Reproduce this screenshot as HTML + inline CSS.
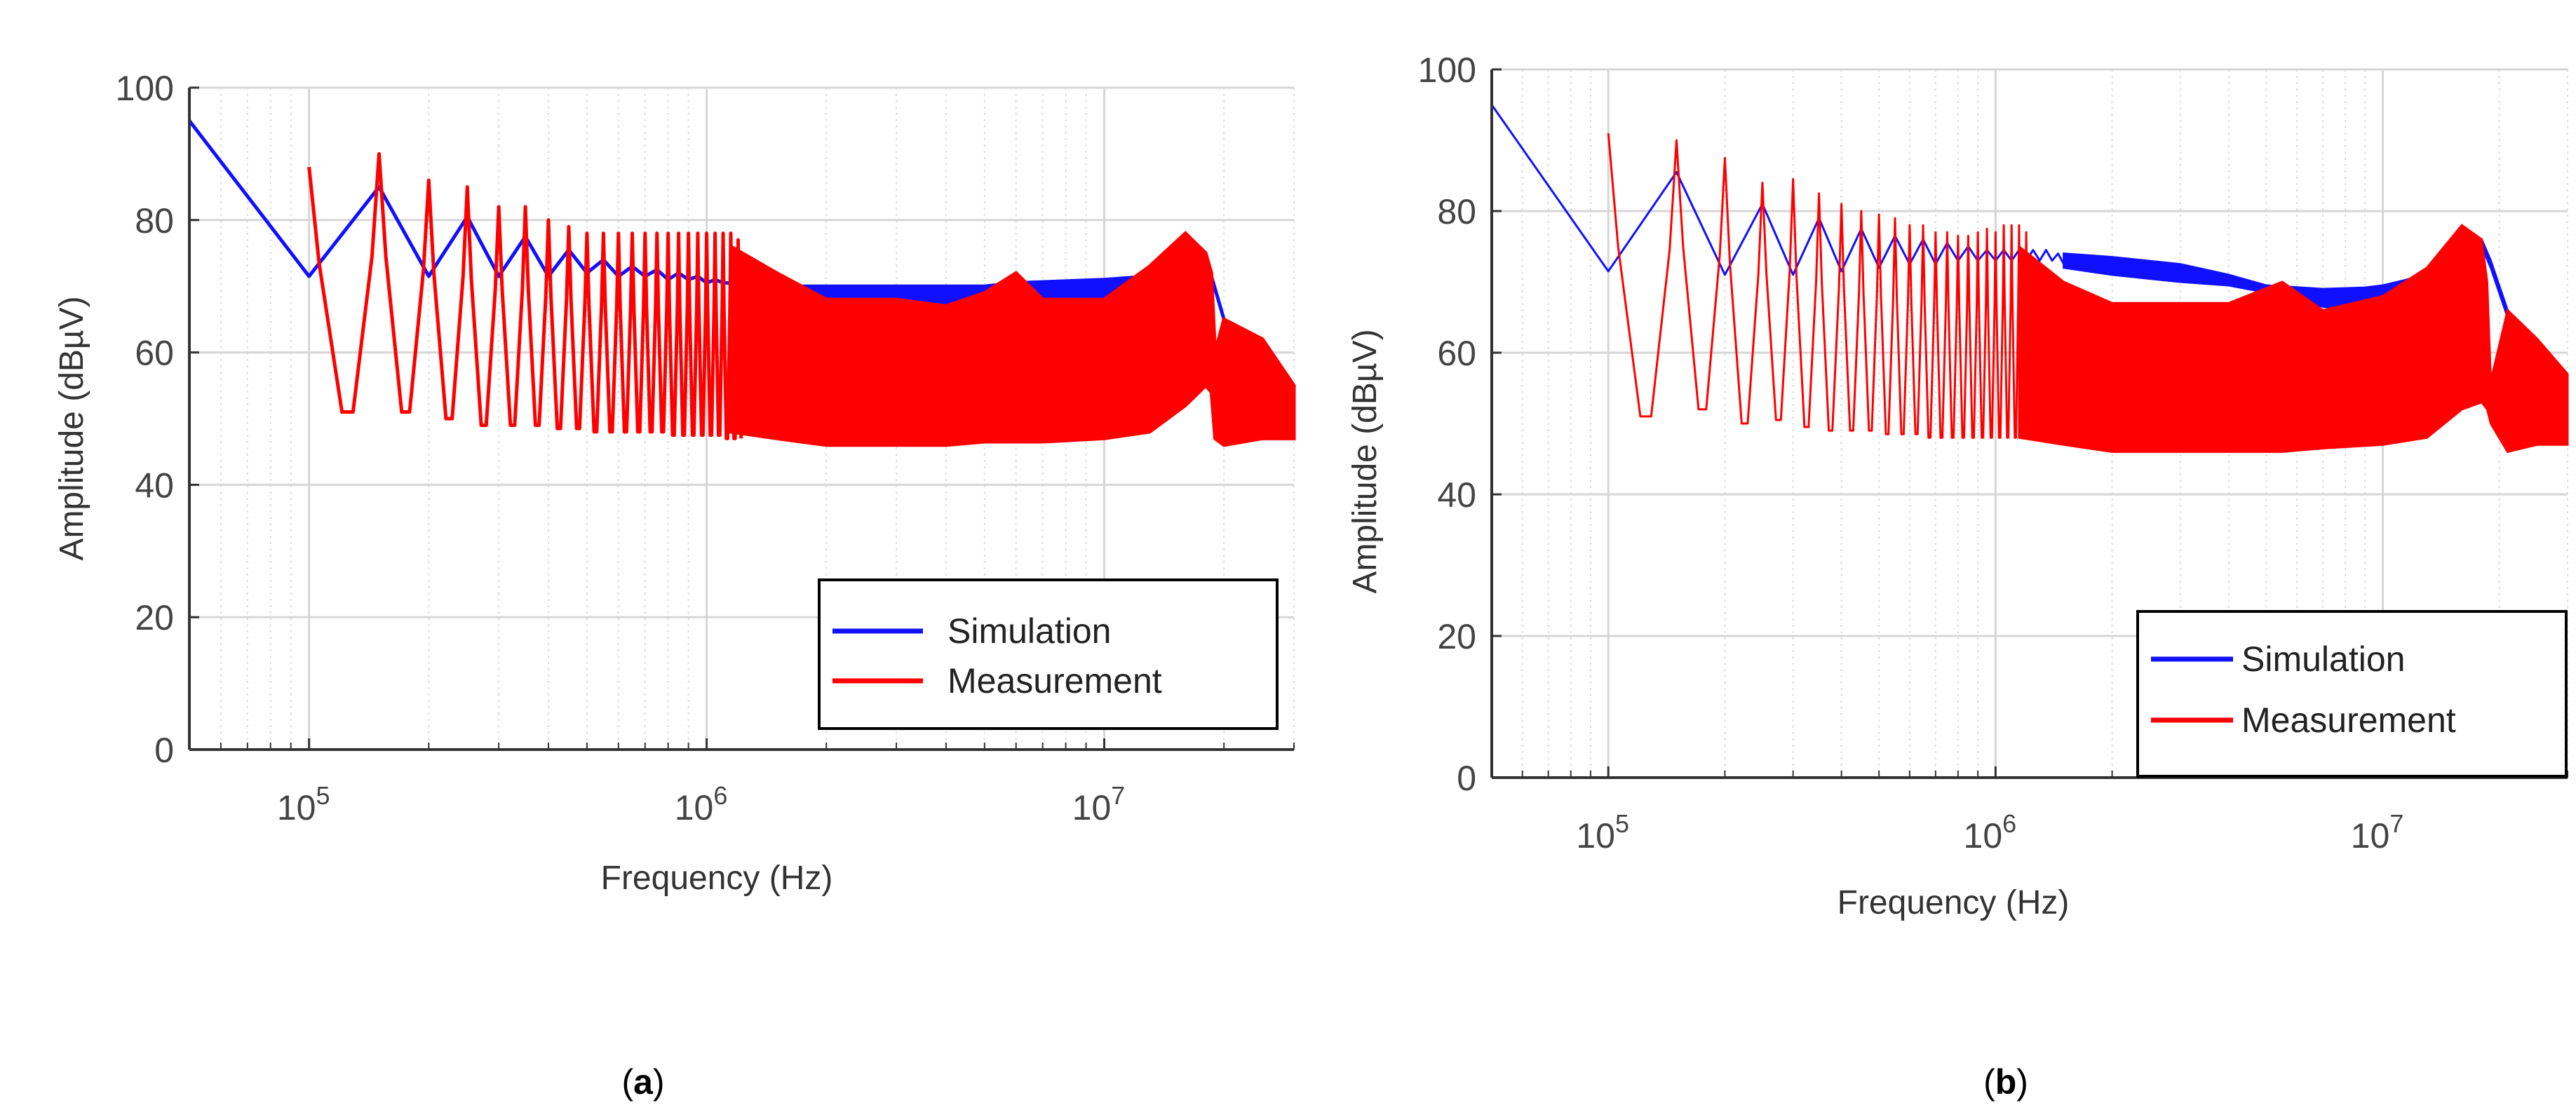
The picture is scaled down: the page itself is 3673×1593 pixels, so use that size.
<!DOCTYPE html>
<html><head><meta charset="utf-8"><style>
html,body{margin:0;padding:0;background:#fff}
svg{display:block}
text{font-family:"Liberation Sans",sans-serif}
</style></head><body>
<svg id="fig" width="3673" height="1593" viewBox="0 0 3673 1593" xmlns="http://www.w3.org/2000/svg">
<g id="ga"></g>
<g id="gb"></g>
<text x="917" y="1560" font-family="Liberation Serif" font-size="50" text-anchor="middle">(<tspan font-weight="bold">a</tspan>)</text>
<text x="2860" y="1560" font-family="Liberation Serif" font-size="50" text-anchor="middle">(<tspan font-weight="bold">b</tspan>)</text>
</svg>
<script>
const yTicks=[0,20,40,60,80,100];
const xDecades=[5,6,7];
// Chart A data
const aSimFreq=[50e3,100e3,150e3,200e3,250e3,300e3,350e3,400e3,450e3,500e3,550e3,600e3,650e3,700e3,750e3,800e3,850e3,900e3,950e3,1e6,1.05e6,1.1e6,1.15e6,1.2e6,1.25e6,1.3e6,1.35e6,1.4e6,1.45e6,1.5e6];
const aSimVal=[95,71.5,85,71.5,80.5,71.5,77.5,71.5,75.5,72,74,71.5,73,71.5,72.5,71,72,71,71.5,70.5,71,70.5,70.5,70,70.5,70,70.5,70,70,70];
const aSimBandFreq=[1.5e6,1.7e6,3e6,5e6,6e6,10e6,13e6,18e6,18.5e6];
const aSimBandUpper=[70,70,70,70,70.5,71,71.5,72,72];
const aSimBandLower=[69.5,65,65.5,66,64,67,69,71,71];
const aSimTailFreq=[18.5e6,20e6];
const aSimTailVal=[72,65];
const aMeasPeaks=[88,90,86,85,82,82,80,79,78,78,78,78,78,78,78,78,78,78,78,78,78,78,77];
const aMeasValleys=[51,51,50,49,49,49,48.5,48.5,48,48,48,48,48,48,47.5,47.5,47.5,47.5,47.5,47.5,47,47,47];
const aBandFreq=[1.15e6,1.5e6,2e6,3e6,4e6,5e6,6e6,7e6,10e6,13e6,16e6,18e6,18.6e6,19e6,20e6,25e6,30e6];
const aBandUpper=[76,72,68,68,67,69,72,68,68,73,78,75,72,60,65,62,55];
const aBandLower=[48,47,46,46,46,46.5,46.5,46.5,47,48,52,55,54,47,46,47,47];
// Chart B data
const bSimFreq=[50e3,100e3,150e3,200e3,250e3,300e3,350e3,400e3,450e3,500e3,550e3,600e3,650e3,700e3,750e3,800e3,850e3,900e3,950e3,1e6,1.05e6,1.1e6,1.15e6,1.2e6,1.25e6,1.3e6,1.35e6,1.4e6,1.45e6,1.5e6];
const bSimVal=[95,71.5,85.5,71,81,71,79,71.5,77.5,72,76.5,72.5,76,72.5,75.5,73,75,73,74.5,73,74.5,73,74.5,73,74.5,73,74.5,73,74,72.5];
const bSimBandFreq=[1.5e6,2e6,3e6,4e6,5e6,7e6,9e6,10e6,13e6,16e6,18e6,19e6,21e6];
const bSimBandUpper=[74,73.5,72.5,71,69.5,69,69.2,69.5,71,74,76,73,66];
const bSimBandLower=[72,71,70,69.5,68.5,66.5,66,67,70,73,75,72,65];
const bSimTailFreq=[21e6,22e6];
const bSimTailVal=[65.5,65];
const bMeasPeaks=[91,90,87.5,84,84.5,82.5,81,80,79.5,79,78,78,77,77,76.5,76.5,77,77.5,77,78,78,78,77];
const bMeasValleys=[51,52,50,50.5,49.5,49,49,49,48.5,48.5,48.5,48,48,48,48,48,48,48,48,48,48,48,48];
const bBandFreq=[1.15e6,1.5e6,2e6,3e6,4e6,5.5e6,7e6,10e6,13e6,16e6,18e6,18.6e6,19e6,21e6,25e6,30e6];
const bBandUpper=[75,70,67,67,67,70,66,68,72,78,76,70,56,66,62,57];
const bBandLower=[48,47,46,46,46,46,46.5,47,48,52,53,52,50,46,47,47];

const NS="http://www.w3.org/2000/svg";
function mk(parent,tag,attrs){const e=document.createElementNS(NS,tag);for(const k in attrs)e.setAttribute(k,attrs[k]);parent.appendChild(e);return e;}

function draw(g,L,R,T,B,simF,simV,sbF,sbU,sbL,stF,stV,mP,mV,mbF,mbU,mbL,lw,lg,titles){
  const lxmin=Math.log10(5e4),lxmax=Math.log10(3e7);
  const X=f=>L+(Math.log10(f)-lxmin)/(lxmax-lxmin)*(R-L);
  const Y=v=>B-(v/100)*(B-T);
  for(let d=4;d<=7;d++)for(let m=2;m<=9;m++){const f=m*Math.pow(10,d);if(f<5e4||f>3e7)continue;
    const l=mk(g,'line',{x1:X(f),x2:X(f),y1:T,y2:B,stroke:'#ddd','stroke-width':2,'stroke-dasharray':'3,6'});
    
    
    mk(g,'line',{x1:X(f),x2:X(f),y1:B,y2:B-10,stroke:'#333','stroke-width':2});}
  for(const t of yTicks){
    const l=mk(g,'line',{x1:L,x2:R,y1:Y(t),y2:Y(t),stroke:'#d6d6d6','stroke-width':3});
    
    
    mk(g,'line',{x1:L,x2:L+14,y1:Y(t),y2:Y(t),stroke:'#333','stroke-width':3});
    const tx=mk(g,'text',{x:L-22,y:Y(t)+18,'font-size':50,fill:'#444','text-anchor':'end'});
    tx.textContent=t;
    
    
  }
  for(const d of xDecades){
    const f=Math.pow(10,d);
    const l=mk(g,'line',{x1:X(f),x2:X(f),y1:T,y2:B,stroke:'#d6d6d6','stroke-width':3});
    
    
    mk(g,'line',{x1:X(f),x2:X(f),y1:B,y2:B-16,stroke:'#333','stroke-width':3});
    const tx=mk(g,'text',{x:X(f)-8,y:B+100,'font-size':50,fill:'#444','text-anchor':'middle'});
    
    
    tx.appendChild(document.createTextNode('10'));
    const s=mk(tx,'tspan',{dy:-22,'font-size':36});s.textContent=d;
  }
  const simPts=simF.map((f,i)=>X(f)+','+Y(simV[i])).join(' ');
  const sl=mk(g,'polyline',{points:simPts,fill:'none',stroke:'#1010ff','stroke-width':lw,'stroke-linejoin':'round'});
  
  
  const sbp=sbF.map((f,i)=>X(f)+','+Y(sbU[i])).concat(sbF.map((f,i)=>X(f)+','+Y(sbL[i])).reverse()).join(' ');
  const sb=mk(g,'polygon',{points:sbp,fill:'#1010ff',stroke:'#1010ff','stroke-width':lw});
  
  
  const st=mk(g,'polyline',{points:stF.map((f,i)=>X(f)+','+Y(stV[i])).join(' '),fill:'none',stroke:'#1010ff','stroke-width':lw});
  
  
  const pts=[];
  mP.forEach((p,i)=>{const f=(i+2)*5e4,hw=0.42*5e4,nw=0.12*5e4;
    if(i>0){pts.push([f-hw,mV[i-1]]);pts.push([f-nw,(p+mV[i-1])/2+4]);}
    pts.push([f,p]);pts.push([f+nw,(p+mV[i])/2+4]);pts.push([f+hw,mV[i]]);
  });
  const ml=mk(g,'polyline',{points:pts.map(q=>X(q[0])+','+Y(q[1])).join(' '),fill:'none',stroke:'#ff0000','stroke-width':lw,'stroke-linejoin':'round'});
  
  
  const mbp=mbF.map((f,i)=>X(f)+','+Y(mbU[i])).concat(mbF.map((f,i)=>X(f)+','+Y(mbL[i])).reverse()).join(' ');
  const mb=mk(g,'polygon',{points:mbp,fill:'#ff0000',stroke:'#ff0000','stroke-width':lw});
  
  
  mk(g,'line',{x1:L,x2:L,y1:T,y2:B,stroke:'#333','stroke-width':4});
  mk(g,'line',{x1:L,x2:R,y1:B,y2:B,stroke:'#333','stroke-width':4});
  const lgG=mk(g,'g',{});
  
  
  mk(lgG,'rect',{x:lg.x,y:lg.y,width:lg.w,height:lg.h,fill:'#fff',stroke:'#000','stroke-width':4});
  [['Simulation','#1010ff',lg.y1],['Measurement','#ff0000',lg.y2]].forEach(e=>{
    const eg=mk(lgG,'g',{});
    
    
    mk(eg,'line',{x1:lg.lx1,x2:lg.lx2,y1:e[2],y2:e[2],stroke:e[1],'stroke-width':7});
    const t=mk(eg,'text',{x:lg.tx,y:e[2]+17,'font-size':50,fill:'#222'});t.textContent=e[0];
  });
  const xt=mk(g,'text',{x:titles.xx,y:titles.xy,'font-size':48,fill:'#333','text-anchor':'middle'});
  xt.textContent='Frequency (Hz)';
  
  
  const yt=mk(g,'text',{x:0,y:0,'font-size':48,fill:'#333','text-anchor':'middle',transform:`translate(${titles.yx},${titles.yy}) rotate(-90)`});
  yt.textContent='Amplitude (dBµV)';
  
  
}
draw(document.getElementById('ga'),270,1845,125,1069,aSimFreq,aSimVal,aSimBandFreq,aSimBandUpper,aSimBandLower,aSimTailFreq,aSimTailVal,aMeasPeaks,aMeasValleys,aBandFreq,aBandUpper,aBandLower,5,
 {x:1168,y:827,w:653,h:212,lx1:1187,lx2:1316,tx:1351,y1:900,y2:971},{xx:1022,xy:1268,yx:118,yy:611});
draw(document.getElementById('gb'),2127,3661,99,1109,bSimFreq,bSimVal,bSimBandFreq,bSimBandUpper,bSimBandLower,bSimTailFreq,bSimTailVal,bMeasPeaks,bMeasValleys,bBandFreq,bBandUpper,bBandLower,3,
 {x:3048,y:872,w:611,h:235,lx1:3067,lx2:3184,tx:3196,y1:940,y2:1027},{xx:2785,xy:1303,yx:1962,yy:658});
</script>
</body></html>
